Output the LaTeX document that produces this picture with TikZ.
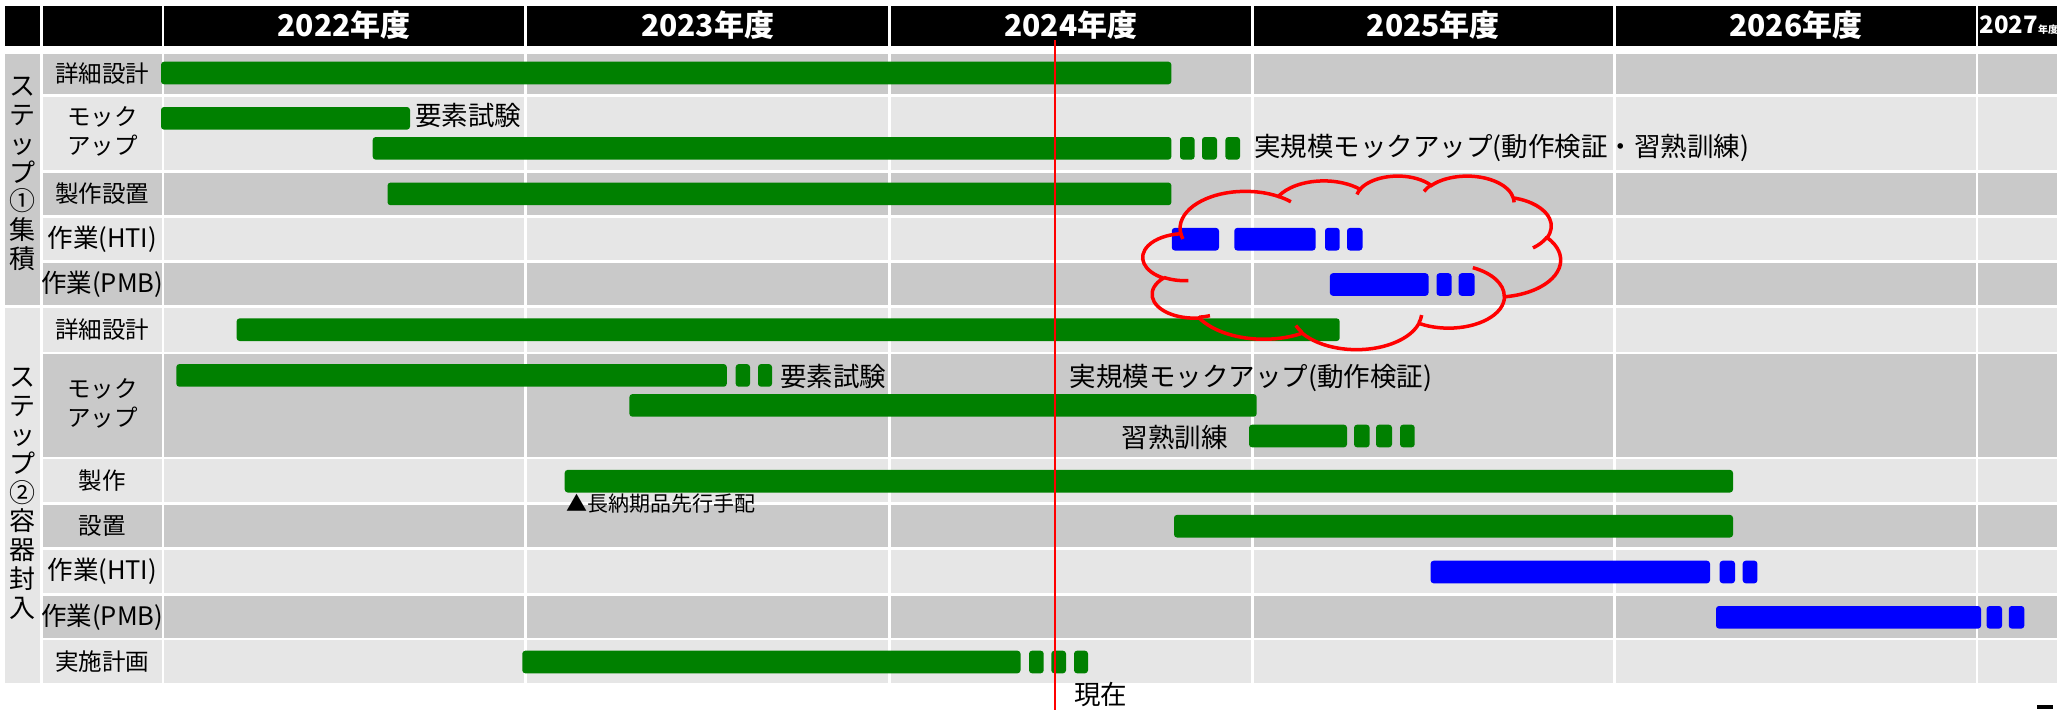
\documentclass[tikz,border=0pt]{standalone}
\usepackage{fontspec}
\setmainfont{Noto Sans CJK JP}
\definecolor{dk}{HTML}{C9C9C9}
\definecolor{lt}{HTML}{E6E6E6}
\definecolor{gr}{HTML}{008000}
\definecolor{bl}{HTML}{0000FF}
\definecolor{rd}{HTML}{FF0000}
\tikzset{
  gbarstyle/.style={fill=gr, rounded corners=3pt},
  bbarstyle/.style={fill=bl, rounded corners=3pt},
  rowlab/.style={font=\fontsize{23.5}{29}\selectfont, align=center, inner sep=0pt, text=black},
  worklab/.style={font=\fontsize{25.5}{29}\selectfont, align=center, inner sep=0pt, text=black},
  note/.style={font=\fontsize{26.5}{30}\selectfont, inner sep=0pt, text=black},
  smallnote/.style={font=\fontsize{21}{24}\selectfont, inner sep=0pt, text=black},
  yr/.style={font=\bfseries\fontsize{30}{30}\selectfont, text=white, inner sep=0pt},
  steplab/.style={font=\fontsize{26}{28.8}\selectfont, align=center, inner sep=0pt},
  cloudline/.style={draw=rd, line width=3.5pt},
  nowline/.style={draw=rd, line width=2pt}
}
\newcommand\mygbar[3]{\fill[gbarstyle] (#1,#3-11.3) rectangle (#2,#3+11.3);}
\newcommand\mybbar[3]{\fill[bbarstyle] (#1,#3-11.3) rectangle (#2,#3+11.3);}
\newcommand\tablerow[3]{%
  \foreach \a/\b in {43/161.6,164/524.4,527/888.2,890.8/1250.9,1253.5/1613.2,1615.8/1975.7,1978.3/2060}
    {\fill[#3] (\a,#1) rectangle (\b,#2);}}
\newcommand\cldarc[4]{%
  \pgfextra{%
    \pgfmathsetmacro\cldts{atan2(#1*sin(#3),#2*cos(#3))}%
    \pgfmathsetmacro\cldte{atan2(#1*sin(#3+#4),#2*cos(#3+#4))}%
    \pgfmathsetmacro\cldte{\cldts+mod(\cldte-\cldts+720,360)}%
    \xdef\cldTS{\cldts}\xdef\cldTE{\cldte}%
  }
  arc[start angle=\cldTS, end angle=\cldTE, x radius=#1, y radius=#2]
}
\begin{document}
\begin{tikzpicture}[x=1pt,y=-1pt]
\useasboundingbox (0,0) rectangle (2057,710);
\fill[white] (0,0) rectangle (2057,710);
% header
\fill[black] (4.5,6) rectangle (40.3,46);
\tablerow{6}{46}{black}
% step columns
\fill[dk] (4.5,54) rectangle (40.3,305);
\fill[lt] (4.5,307.6) rectangle (40.3,683.3);
% rows
\tablerow{54}{94.3}{dk}
\tablerow{96.9}{170}{lt}
\tablerow{172.6}{215}{dk}
\tablerow{217.6}{260.3}{lt}
\tablerow{262.9}{305}{dk}
\tablerow{307.6}{351.7}{lt}
\tablerow{354.3}{456.7}{dk}
\tablerow{459.3}{502.3}{lt}
\tablerow{504.9}{547.3}{dk}
\tablerow{549.9}{593.3}{lt}
\tablerow{595.9}{637.7}{dk}
\tablerow{640.3}{683.3}{lt}
% header texts
\node[yr] (y22) at (344.2,25.5) {2022年度};
\node[yr] (y23) at (707.6,25.5) {2023年度};
\node[yr] (y24) at (1070.9,25.5) {2024年度};
\node[yr] (y25) at (1433.4,25.5) {2025年度};
\node[yr] (y26) at (1795.8,25.5) {2026年度};
\node[anchor=base west, text=white, inner sep=0pt] (y27) at (1979.5,33.5)
  {\bfseries\fontsize{24}{24}\selectfont 2027\fontsize{10}{10}\selectfont 年度};
% step labels
\node[steplab] (s1) at (22.3,174) {ス\\テ\\ッ\\プ\\①\\集\\積};
\node[steplab] (s2) at (22.3,494) {ス\\テ\\ッ\\プ\\②\\容\\器\\封\\入};
% row labels
\node[rowlab] (l1) at (102.3,74) {詳細設計};
\node[rowlab] (l2) at (102.3,131) {モック\\アップ};
\node[rowlab] (l3) at (102.3,193.8) {製作設置};
\node[worklab] (l4) at (102.3,239) {作業(HTI)};
\node[worklab] (l5) at (102.3,284) {作業(PMB)};
\node[rowlab] (l6) at (102.3,329.7) {詳細設計};
\node[rowlab] (l7) at (102.3,403) {モック\\アップ};
\node[rowlab] (l8) at (102.3,480.8) {製作};
\node[rowlab] (l9) at (102.3,526) {設置};
\node[worklab] (l10) at (102.3,571.6) {作業(HTI)};
\node[worklab] (l11) at (102.3,616.8) {作業(PMB)};
\node[rowlab] (l12) at (102.3,661.8) {実施計画};
% step 1 bars
\mygbar{161}{1171.4}{73}
\mygbar{161}{410}{118.3}
\mygbar{372.7}{1171.4}{148.3}
\mygbar{1180}{1194.6}{148.3}
\mygbar{1202}{1217}{148.3}
\mygbar{1225.4}{1240}{148.3}
\mygbar{387.5}{1171.4}{193.9}
\mybbar{1171.8}{1219}{239.2}
\mybbar{1234.3}{1315.6}{239.2}
\mybbar{1325}{1339.7}{239.2}
\mybbar{1347}{1362.5}{239.2}
\mybbar{1329.9}{1428.5}{284.5}
\mybbar{1436.5}{1451.5}{284.5}
\mybbar{1458.7}{1474.6}{284.5}
% step 2 bars
\mygbar{236.6}{1339.7}{329.7}
\mygbar{176.3}{726.8}{375.4}
\mygbar{735.7}{750}{375.4}
\mygbar{758}{772}{375.4}
\mygbar{629.4}{1256.7}{405.4}
\mygbar{1249}{1347}{436}
\mygbar{1354}{1369.6}{436}
\mygbar{1376}{1392}{436}
\mygbar{1400}{1414.7}{436}
\mygbar{564.7}{1733}{481.2}
\mygbar{1174}{1733}{526.2}
\mybbar{1430.6}{1710}{572}
\mybbar{1719.7}{1735}{572}
\mybbar{1742.7}{1757.4}{572}
\mybbar{1716}{1981}{617.3}
\mybbar{1986.6}{2002}{617.3}
\mybbar{2008.8}{2024.3}{617.3}
\mygbar{522.3}{1020.5}{662}
\mygbar{1029}{1043.7}{662}
\mygbar{1051.3}{1066}{662}
\mygbar{1074}{1088}{662}
% notes
\node[note, anchor=west] (n1) at (415,115) {要素試験};
\node[note, anchor=west] (n2) at (1254,148) {実規模モックアップ(動作検証・習熟訓練)};
\node[note, anchor=west] (n3) at (780,376) {要素試験};
\node[note, anchor=west] (n4) at (1069.6,378) {実規模モックアップ(動作検証)};
\node[note, anchor=east] (n5) at (1228,437) {習熟訓練};
\node[smallnote, anchor=west] (n7) at (566,504) {▲長納期品先行手配};
\node[note, anchor=west] (n6) at (1074,694) {現在};
% now line
\coordinate (nowtop) at (1055,40);
\coordinate (nowbot) at (1055,710);
\draw[nowline] (nowtop) -- (nowbot);
% cloud
\begin{scope}[shift={(1143,175.5)}, x=0.96644pt, y=-0.40162pt]
\draw[cloudline] (39.00,143.70)
  \cldarc{67.53}{91.90}{-190.4875}{123.7805}
  \cldarc{53.33}{72.67}{-144.1024}{89.9452}
  \cldarc{43.65}{59.45}{-145.8079}{99.7230}
  \cldarc{48.57}{65.95}{-130.9861}{117.2417}
  \cldarc{53.33}{72.73}{-78.7089}{109.0269}
  \cldarc{67.75}{92.20}{-46.2673}{130.2690}
  \cldarc{57.85}{78.67}{0.6250}{114.0333}
  \cldarc{67.52}{92.15}{22.4516}{115.1726}
  \cldarc{77.20}{105.43}{66.2426}{75.7110}
  \cldarc{43.60}{59.18}{-274.9421}{146.7356}
  \cldarc{43.45}{59.45}{-246.8285}{152.5189}
  -- cycle;
\draw[cloudline]
  (46.93,261.77) \cldarc{43.45}{59.45}{86.7420}{26.4295}
  (69.28,348.99) \cldarc{43.60}{59.18}{73.6105}{11.4475}
  (164.78,390.90) \cldarc{67.52}{92.15}{137.6242}{14.0811}
  (288.27,347.51) \cldarc{67.52}{92.15}{6.4533}{15.9984}
  (341.29,229.54) \cldarc{57.85}{78.67}{-70.2924}{70.9174}
  (417.98,153.54) \cldarc{53.33}{72.73}{30.3180}{27.7515}
  (383.24,54.26) \cldarc{48.57}{65.95}{-13.7443}{14.8589}
  (290.78,39.52) \cldarc{48.57}{65.95}{-149.1815}{18.1954}
  (221.41,47.20) \cldarc{43.65}{59.45}{-163.4943}{17.6864}
  (140.00,51.92) \cldarc{67.53}{91.90}{-66.7070}{12.3194}
  (41.27,157.89) \cldarc{67.53}{91.90}{157.6544}{11.8582};
\end{scope}
% corner mark
\fill[black] (2037,705) rectangle (2053,708.5);
\end{tikzpicture}
\end{document}
